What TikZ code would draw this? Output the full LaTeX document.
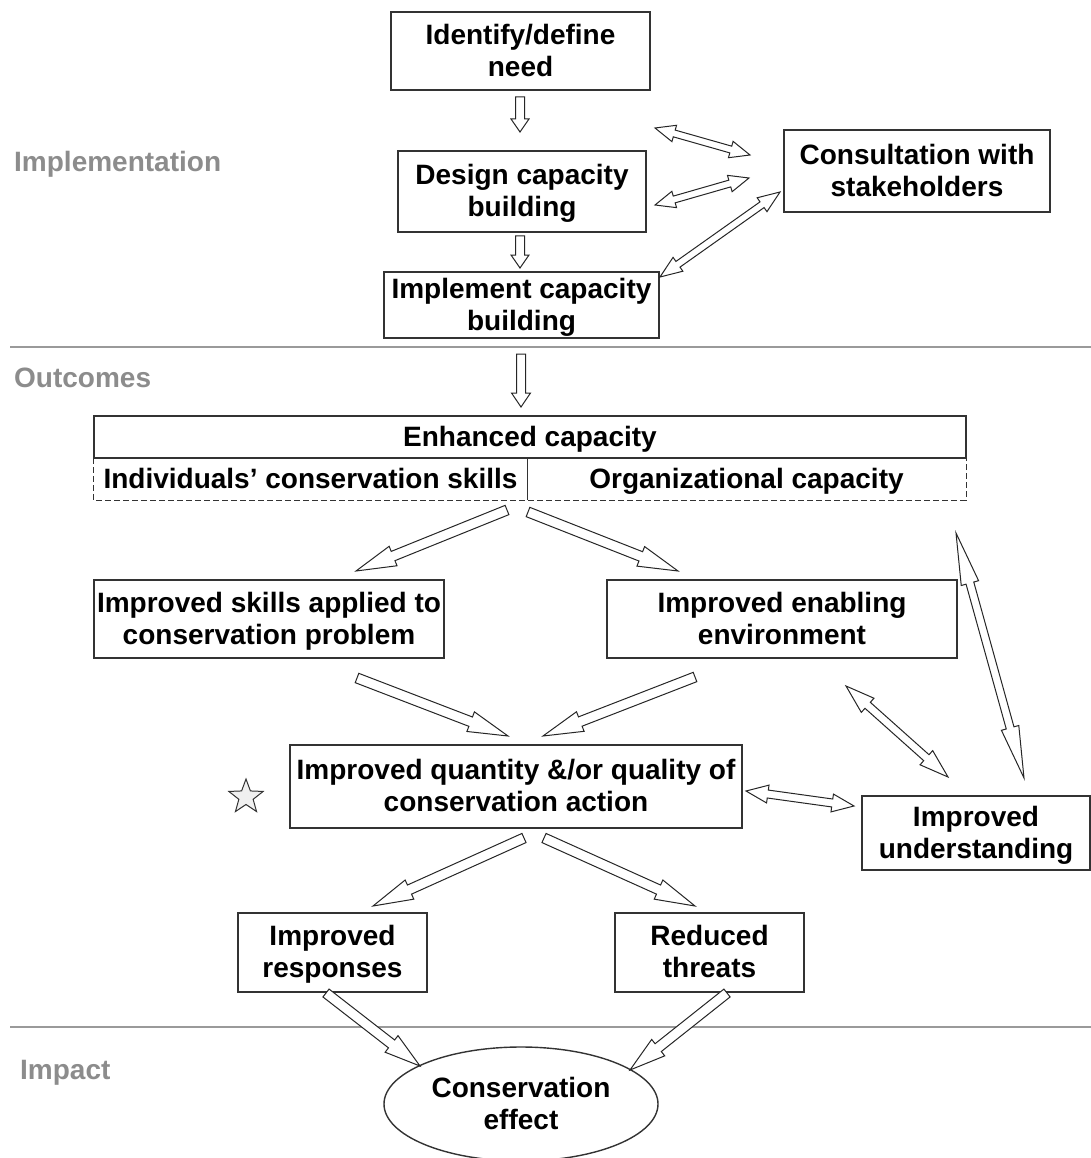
\documentclass[tikz,border=0pt]{standalone}
\usepackage{fontspec}
\setmainfont{Liberation Sans}
\usetikzlibrary{calc,shapes.geometric}
\definecolor{boxline}{HTML}{333333}
\definecolor{sepline}{HTML}{9A9A9A}
\definecolor{seclabel}{HTML}{8C8C8C}
\newcommand\ts{\rule[-6.5pt]{0pt}{31.5pt}}
% single block arrow: from, to, shaft half-width, head half-width, head length
\newcommand\blkarrow[5]{%
  \coordinate (bc) at ($(#2)!#5!(#1)$);
  \draw[blockarrow] ($(#1)!#3!90:(#2)$) -- ($(bc)!#3!90:(#2)$) -- ($(bc)!#4!90:(#2)$) -- (#2)
    -- ($(bc)!#4!-90:(#2)$) -- ($(bc)!#3!-90:(#2)$) -- ($(#1)!#3!-90:(#2)$) -- cycle;}
% double block arrow
\newcommand\dblkarrow[5]{%
  \coordinate (bca) at ($(#1)!#5!(#2)$);
  \coordinate (bcb) at ($(#2)!#5!(#1)$);
  \draw[blockarrow] (#1) -- ($(bca)!#4!90:(#2)$) -- ($(bca)!#3!90:(#2)$) -- ($(bcb)!#3!90:(#2)$)
    -- ($(bcb)!#4!90:(#2)$) -- (#2) -- ($(bcb)!#4!-90:(#2)$) -- ($(bcb)!#3!-90:(#2)$)
    -- ($(bca)!#3!-90:(#2)$) -- ($(bca)!#4!-90:(#2)$) -- cycle;}
\begin{document}
\begin{tikzpicture}[x=1pt,y=-1pt,
  font=\fontsize{28}{32}\selectfont\bfseries,
  box/.style={draw=boxline, line width=1.4pt, align=center, inner sep=0pt},
  blockarrow/.style={draw=black!85, line width=1pt, fill=white, line join=miter},
  seclbl/.style={text=seclabel, anchor=west, inner sep=0pt},
  sep/.style={draw=sepline, line width=2.5pt}]
\useasboundingbox (0,0) rectangle (1091,1158);

% separators and section labels
\draw[sep] (10,347) -- (1091,347);
\draw[sep] (10,1027) -- (1091,1027);
\node[seclbl] (limpl) at (14,164) {Implementation};
\node[seclbl] (loutc) at (14,378) {Outcomes};
\node[seclbl] (limpa) at (20,1073) {Impact};

% implementation boxes
\node[box, minimum width=259, minimum height=78] (need) at (520.5,51) {\ts Identify/define\\\ts need};
\node[box, minimum width=248, minimum height=81] (design) at (522,191.5) {\ts Design capacity\\\ts building};
\node[box, minimum width=275, minimum height=66] (impl) at (521.5,305) {\ts Implement capacity\\\ts building};
\node[box, minimum width=266, minimum height=82] (consult) at (917,171) {\ts Consultation with\\\ts stakeholders};

% enhanced capacity
\node[box, minimum width=872, minimum height=42] (enh) at (530,437) {\ts Enhanced capacity};
\node[inner sep=0pt, minimum width=433, minimum height=42] (indiv) at (310.5,479) {\ts Individuals’ conservation skills};
\node[inner sep=0pt, minimum width=439, minimum height=42] (org) at (746.5,479) {\ts Organizational capacity};
\draw[draw=boxline, line width=1.2pt, dashed, dash pattern=on 6pt off 3pt] (indiv.north west) rectangle (org.south east);
\draw[draw=boxline, line width=1.2pt] (indiv.north east) -- (indiv.south east);

% outcome boxes
\node[box, minimum width=350, minimum height=78] (skills) at (269,619) {\ts Improved skills applied to\\\ts conservation problem};
\node[box, minimum width=350, minimum height=78] (enab) at (782,619) {\ts Improved enabling\\\ts environment};
\node[box, minimum width=452, minimum height=83] (action) at (516,786.5) {\ts Improved quantity \&/or quality of\\\ts conservation action};
\node[box, minimum width=228, minimum height=74] (underst) at (976,833) {\ts Improved\\\ts understanding};
\node[box, minimum width=189, minimum height=79] (resp) at (332.5,952.5) {\ts Improved\\\ts responses};
\node[box, minimum width=189, minimum height=79] (threat) at (709.5,952.5) {\ts Reduced\\\ts threats};
\node[box, ellipse, minimum width=274, minimum height=114] (effect) at (521,1104) {\ts Conservation\\\ts effect};

\node[star, star points=5, star point ratio=2.4, draw=boxline, line width=1pt, fill=black!6,
      minimum size=36pt, inner sep=0pt] (star) at (246,797) {};

% arrow end points
\coordinate (a1s) at (520,97);   \coordinate (a1e) at (520,132);
\coordinate (a2s) at (520,236);  \coordinate (a2e) at (520,268);
\coordinate (a3s) at (521,354);  \coordinate (a3e) at (521,407);
\coordinate (d1a) at (655,128);  \coordinate (d1b) at (750,155);
\coordinate (d2a) at (655,205);  \coordinate (d2b) at (749,178);
\coordinate (d3a) at (660,277);  \coordinate (d3b) at (780,192);
\coordinate (e1s) at (507,510);  \coordinate (e1e) at (356,571);
\coordinate (e2s) at (528,512);  \coordinate (e2e) at (678,571);
\coordinate (f1s) at (357,678);  \coordinate (f1e) at (508,736);
\coordinate (f2s) at (695,677);  \coordinate (f2e) at (543,736);
\coordinate (ga) at (746,791);   \coordinate (gb) at (854,806);
\coordinate (ha) at (846,686);   \coordinate (hb) at (948,777);
\coordinate (ta) at (956,533);   \coordinate (tb) at (1024,778);
\coordinate (k1s) at (524,838);  \coordinate (k1e) at (373,906);
\coordinate (k2s) at (544,838);  \coordinate (k2e) at (695,906);
\coordinate (l1s) at (326,993);  \coordinate (l1e) at (420,1066);
\coordinate (l2s) at (727,993);  \coordinate (l2e) at (630,1070);

% arrows
\blkarrow{a1s}{a1e}{4.5pt}{9pt}{13pt}
\blkarrow{a2s}{a2e}{4.5pt}{9pt}{13pt}
\blkarrow{a3s}{a3e}{4.5pt}{9.5pt}{14pt}
\dblkarrow{d1a}{d1b}{3.5pt}{8.5pt}{20pt}
\dblkarrow{d2a}{d2b}{3.5pt}{8.5pt}{20pt}
\dblkarrow{d3a}{d3b}{3.5pt}{8.5pt}{22pt}
\blkarrow{e1s}{e1e}{5pt}{10.5pt}{40pt}
\blkarrow{e2s}{e2e}{5pt}{10.5pt}{40pt}
\blkarrow{f1s}{f1e}{5pt}{10.5pt}{40pt}
\blkarrow{f2s}{f2e}{5pt}{10.5pt}{40pt}
\dblkarrow{ga}{gb}{4pt}{9pt}{22pt}
\dblkarrow{ha}{hb}{4pt}{9.5pt}{29pt}
\dblkarrow{ta}{tb}{4pt}{9pt}{52pt}
\blkarrow{k1s}{k1e}{5pt}{10.5pt}{40pt}
\blkarrow{k2s}{k2e}{5pt}{10.5pt}{40pt}
\blkarrow{l1s}{l1e}{5pt}{10.5pt}{36pt}
\blkarrow{l2s}{l2e}{5pt}{10.5pt}{36pt}
\end{tikzpicture}
\end{document}
